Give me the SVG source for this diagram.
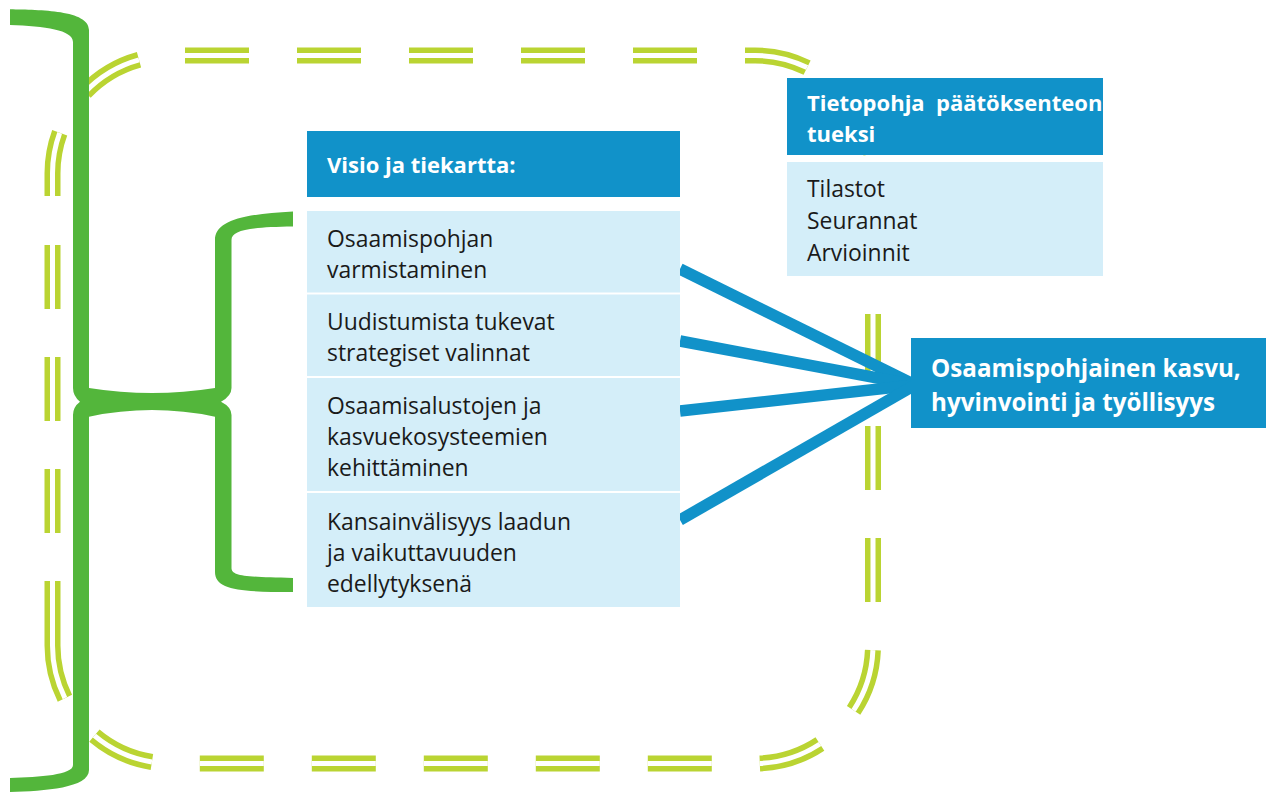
<svg xmlns="http://www.w3.org/2000/svg" width="1266" height="792" viewBox="0 0 1266 792">
<defs>
<style>
.dash-o{fill:none;stroke:#BAD432;stroke-width:16;stroke-linecap:butt}
.dash-i{fill:none;stroke:#FFFFFF;stroke-width:5;stroke-linecap:butt}
.brace{fill:#53B63B}
.link{stroke:#1192C9;stroke-width:11.5;stroke-linecap:butt;fill:none}
.hdr{fill:#1192C9}
.lt{fill:#D4EEF9}
.t{font-family:"Open Sans","Noto Sans","Liberation Sans",sans-serif;font-size:22.9px;fill:#1A1A1A}
.tb{font-family:"Open Sans","Noto Sans","Liberation Sans",sans-serif;font-size:22px;font-weight:bold;fill:#FFFFFF}
.tbig{font-family:"Open Sans","Noto Sans","Liberation Sans",sans-serif;font-size:24.2px;font-weight:bold;fill:#FFFFFF}
</style>
</defs>
<rect width="1266" height="792" fill="#FFFFFF"/>
<g id="frame">
<path id="framepath" class="dash-o" d="M185 55.5H249M297 55.5H361M409 55.5H473M521 55.5H585M633 55.5H697M745 55.5H755A118 118 0 0 1 807.1 67.6M844.8 96.9A118 118 0 0 1 871.4 154.2M873 202V266M873 314V378M873 426V490M873 538V602M872.9 650.1A118 118 0 0 1 853.6 710.3M819.9 744A118 118 0 0 1 759.8 763.4M711.8 763.5H647.8M599.8 763.5H535.8M487.8 763.5H423.8M375.8 763.5H311.8M263.8 763.5H199.8M151.9 762A118 118 0 0 1 94.4 735.7M64.9 698.2A118 118 0 0 1 52.5 645.5V581M52.5 533V469M52.5 421V357M52.5 309V245M52.5 196V173.5A118 118 0 0 1 59.7 132.8M84.9 92.3A118 118 0 0 1 139 59.8"/>
<path class="dash-i" d="M185 55.5H249M297 55.5H361M409 55.5H473M521 55.5H585M633 55.5H697M745 55.5H755A118 118 0 0 1 807.1 67.6M844.8 96.9A118 118 0 0 1 871.4 154.2M873 202V266M873 314V378M873 426V490M873 538V602M872.9 650.1A118 118 0 0 1 853.6 710.3M819.9 744A118 118 0 0 1 759.8 763.4M711.8 763.5H647.8M599.8 763.5H535.8M487.8 763.5H423.8M375.8 763.5H311.8M263.8 763.5H199.8M151.9 762A118 118 0 0 1 94.4 735.7M64.9 698.2A118 118 0 0 1 52.5 645.5V581M52.5 533V469M52.5 421V357M52.5 309V245M52.5 196V173.5A118 118 0 0 1 59.7 132.8M84.9 92.3A118 118 0 0 1 139 59.8"/>
</g>
<g id="braces">
<path class="brace" d="M10 9.3C40 10 89 10 89 30L89 388Q152 398 215 388L215 240C215 222 240 214 293 211.5L293 226.5C250 227 231.5 230 231.5 240L231.5 388Q231.5 396 221 401.7Q231.5 407 231.5 415L231.5 568C231.5 576 245 577 293 578L293 592C240 592 215 590 215 572L215 416.7Q152 403.5 89 416.7L89 770C89 788 45 791 10 792L10 778C40 777 73 775 73 765L73 415Q73 407 80 401.7Q73 396 73 388L73 42C73 30 45 26 10 25Z"/>
</g>
<g id="connectors">
<path class="link" d="M680 269L915 385"/>
<path class="link" d="M680 341L915 385"/>
<path class="link" d="M680 411L915 385"/>
<path class="link" d="M680 520L915 385"/>
</g>
<g id="visio">
<rect class="hdr" x="307" y="131" width="373" height="66"/>
<text class="tb" x="327" y="173">Visio ja tiekartta:</text>
</g>
<g id="box1">
<rect class="lt" x="307" y="211" width="373" height="81.5"/>
<text class="t" x="327" y="247">Osaamispohjan</text>
<text class="t" x="327" y="278">varmistaminen</text>
</g>
<g id="box2">
<rect class="lt" x="307" y="294.5" width="373" height="81.5"/>
<text class="t" x="327" y="330">Uudistumista tukevat</text>
<text class="t" x="327" y="361">strategiset valinnat</text>
</g>
<g id="box3">
<rect class="lt" x="307" y="378" width="373" height="113"/>
<text class="t" x="327" y="414">Osaamisalustojen ja</text>
<text class="t" x="327" y="445">kasvuekosysteemien</text>
<text class="t" x="327" y="476">kehittäminen</text>
</g>
<g id="box4">
<rect class="lt" x="307" y="493" width="373" height="114"/>
<text class="t" x="327" y="530">Kansainvälisyys laadun</text>
<text class="t" x="327" y="561">ja vaikuttavuuden</text>
<text class="t" x="327" y="592">edellytyksenä</text>
</g>
<g id="tietopohja">
<rect class="hdr" x="787" y="78" width="316" height="77"/>
<text class="tb" x="807" y="111" xml:space="preserve">Tietopohja  päätöksenteon</text>
<text class="tb" x="807" y="142">tueksi</text>
</g>
<g id="tilastot">
<rect class="lt" x="787" y="162" width="316" height="114"/>
<text class="t" x="807" y="197">Tilastot</text>
<text class="t" x="807" y="229">Seurannat</text>
<text class="t" x="807" y="261">Arvioinnit</text>
</g>
<g id="target">
<rect class="hdr" x="911" y="338" width="355" height="90"/>
<text class="tbig" x="931" y="377">Osaamispohjainen kasvu,</text>
<text class="tbig" x="931" y="411">hyvinvointi ja työllisyys</text>
</g>
</svg>
